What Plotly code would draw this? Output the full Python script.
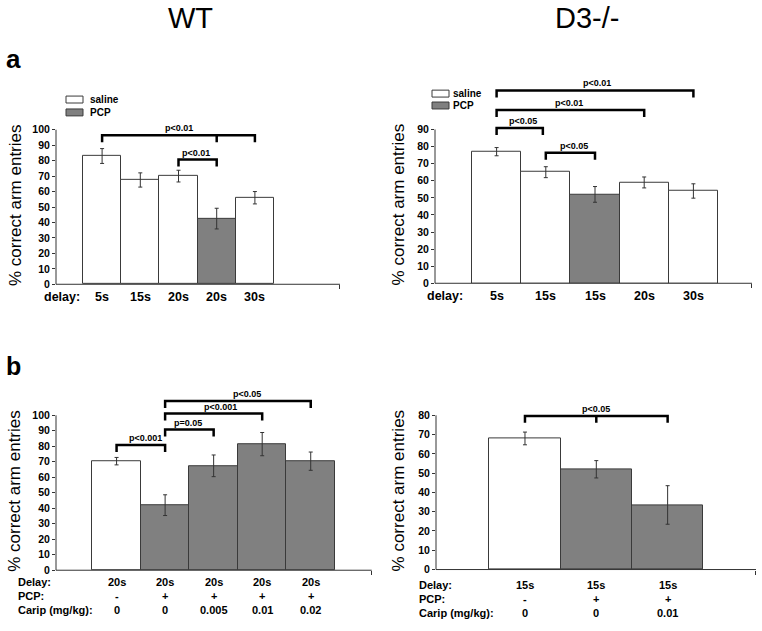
import plotly.graph_objects as go

W, H = 762, 631
FONT = "Arial, 'Liberation Sans', sans-serif"

# ---------------- data ----------------
wt_a_labels = ["5s", "15s", "20s", "20s", "30s"]
wt_a_values = [83, 67.5, 70, 42.5, 56]
wt_a_errors = [4.8, 4.6, 3.8, 6.7, 4.0]
wt_a_groups = ["saline", "saline", "saline", "PCP", "saline"]

d3_a_labels = ["5s", "15s", "15s", "20s", "30s"]
d3_a_values = [77, 65, 52, 59, 54]
d3_a_errors = [2.4, 3.2, 4.6, 3.2, 4.2]
d3_a_groups = ["saline", "saline", "PCP", "saline", "saline"]

wt_b_delay = ["20s", "20s", "20s", "20s", "20s"]
wt_b_pcp = ["-", "+", "+", "+", "+"]
wt_b_carip = ["0", "0", "0.005", "0.01", "0.02"]
wt_b_values = [70.4, 42, 67.4, 81.4, 70.4]
wt_b_errors = [2.4, 6.7, 7.0, 7.5, 5.9]

d3_b_delay = ["15s", "15s", "15s"]
d3_b_pcp = ["-", "+", "+"]
d3_b_carip = ["0", "0", "0.01"]
d3_b_values = [68, 52, 33.5]
d3_b_errors = [3.3, 4.5, 10]

# significance brackets: (from bar, to bar, height, middle ticks, label, label x)
wt_a_brackets = [(1, 5, 96.4, [4], "p<0.01", 3.02), (3, 4, 80.7, [], "p<0.01", 3.46)]
d3_a_brackets = [(1, 5, 112.8, [], "p<0.01", 3.05), (1, 4, 101.4, [], "p<0.01", 2.47),
                 (1, 1.94, 90.8, [], "p<0.05", 1.54), (2, 3, 76.3, [], "p<0.05", 2.58)]
wt_b_brackets = [(1, 2, 80.8, [], "p<0.001", 1.59), (2, 3, 90.8, [], "p=0.05", 2.47),
                 (2, 4, 101.1, [], "p<0.001", 3.15), (2, 5, 109.2, [], "p<0.05", 3.69)]
d3_b_brackets = [(1, 3, 79.7, [2], "p<0.05", 1.99)]

COL = {"saline": "#ffffff", "PCP": "#808080"}


def px_x(p):
    return p / W


def px_y(p):
    return 1 - p / H


panels = [
    dict(values=wt_a_values, errors=wt_a_errors,
         colors=[COL[g] for g in wt_a_groups],
         xpx=(56, 340), bars=(83, 274), y0=287, ytop=131, ymax=100, rtop=120,
         brackets=wt_a_brackets,
         rows=[("delay:", wt_a_labels, 300)], rowx=42, rowsize=12.5),
    dict(values=d3_a_values, errors=d3_a_errors,
         colors=[COL[g] for g in d3_a_groups],
         xpx=(435, 752), bars=(472, 718), y0=286, ytop=130.7, ymax=90, rtop=122,
         brackets=d3_a_brackets,
         rows=[("delay:", d3_a_labels, 299)], rowx=425, rowsize=12.5),
    dict(values=wt_b_values, errors=wt_b_errors,
         colors=[COL["saline"] if p == "-" else COL["PCP"] for p in wt_b_pcp],
         xpx=(56, 371.7), bars=(92.3, 335), y0=575.7, ytop=419.3, ymax=100, rtop=122,
         brackets=wt_b_brackets,
         rows=[("Delay:", wt_b_delay, 587.7), ("PCP:", wt_b_pcp, 601.7),
               ("Carip (mg/kg):", wt_b_carip, 615.7)], rowx=16, rowsize=11),
    dict(values=d3_b_values, errors=d3_b_errors,
         colors=[COL["saline"] if p == "-" else COL["PCP"] for p in d3_b_pcp],
         xpx=(436, 756), bars=(489.3, 703.3), y0=575, ytop=419.3, ymax=80, rtop=95,
         brackets=d3_b_brackets,
         rows=[("Delay:", d3_b_delay, 591), ("PCP:", d3_b_pcp, 605),
               ("Carip (mg/kg):", d3_b_carip, 618.7)], rowx=417, rowsize=11),
]

fig = go.Figure()
shapes = []
annotations = []
layout = {}

for i, p in enumerate(panels):
    k = "" if i == 0 else str(i + 1)
    xa, ya = "x" + k, "y" + k
    n = len(p["values"])
    unit = (p["bars"][1] - p["bars"][0]) / n
    r0 = 0.5 - (p["bars"][0] - p["xpx"][0]) / unit
    r1 = n + 0.5 + (p["xpx"][1] - p["bars"][1]) / unit
    ppu = (p["y0"] - p["ytop"]) / p["ymax"]
    top_px = p["y0"] - p["rtop"] * ppu
    dom_y = [px_y(p["y0"]), px_y(top_px)]
    dom_x = [px_x(p["xpx"][0]), px_x(p["xpx"][1])]

    xs = list(range(1, n + 1))
    fig.add_trace(go.Bar(
        x=xs, y=p["values"], width=1, xaxis=xa, yaxis=ya,
        marker=dict(color=p["colors"], line=dict(color="#3a3a3a", width=1)),
        error_y=dict(type="data", array=p["errors"], color="#333333", thickness=1, width=2),
        showlegend=False, hoverinfo="skip"))

    layout["xaxis" + k] = dict(domain=dom_x, range=[r0, r1], anchor=ya,
                               showgrid=False, zeroline=False, showline=False,
                               tickvals=[r1 - 0.005], ticks="outside", ticklen=4,
                               tickcolor="#333", showticklabels=False, fixedrange=True)
    layout["yaxis" + k] = dict(domain=dom_y, range=[0, p["rtop"]], anchor=xa,
                               showgrid=False, zeroline=False, showline=False,
                               tickvals=list(range(0, p["ymax"] + 1, 10)),
                               ticks="outside", ticklen=3, tickcolor="#333",
                               tickfont=dict(family=FONT, size=10.5, color="black", weight="bold"),
                               fixedrange=True)

    # axis lines
    shapes.append(dict(type="line", xref="paper", yref="paper",
                       x0=dom_x[0], x1=dom_x[0], y0=px_y(p["y0"]), y1=px_y(p["ytop"]),
                       line=dict(color="#333", width=1)))
    shapes.append(dict(type="line", xref="paper", yref="paper",
                       x0=dom_x[0], x1=dom_x[1], y0=px_y(p["y0"]), y1=px_y(p["y0"]),
                       line=dict(color="#333", width=1)))

    # brackets
    drop = 7 / ppu
    for (b0, b1, h, mids, lab, lx) in p["brackets"]:
        path = f"M {b0},{h - drop} L {b0},{h} L {b1},{h} L {b1},{h - drop}"
        for m in mids:
            path += f" M {m},{h} L {m},{h - drop}"
        shapes.append(dict(type="path", xref=xa, yref=ya, path=path,
                           line=dict(color="black", width=2.5)))
        annotations.append(dict(x=lx, y=h, xref=xa, yref=ya, text=lab, showarrow=False,
                                xanchor="center", yanchor="middle", yshift=7,
                                font=dict(family=FONT, size=9, color="black", weight="bold")))

    # x label rows
    for (rlab, vals, ypx) in p["rows"]:
        annotations.append(dict(x=px_x(p["rowx"]), y=px_y(ypx), xref="paper", yref="paper",
                                text=rlab, showarrow=False, xanchor="left", yanchor="middle",
                                font=dict(family=FONT, size=p["rowsize"], color="black", weight="bold")))
        for xi, v in zip(xs, vals):
            annotations.append(dict(x=xi, y=px_y(ypx), xref=xa, yref="paper", text=v,
                                    showarrow=False, xanchor="center", yanchor="middle",
                                    font=dict(family=FONT, size=p["rowsize"], color="black", weight="bold")))

    # y-axis title
    ytitle_x = 15 if p["xpx"][0] < 200 else 398
    annotations.append(dict(x=px_x(ytitle_x), y=px_y((p["y0"] + p["ytop"]) / 2 - 2),
                            xref="paper", yref="paper", text="% correct arm entries",
                            textangle=-90, showarrow=False, xanchor="center", yanchor="middle",
                            font=dict(family=FONT, size=17, color="black")))

# legends (panel a)
for (bx, by1, by2, tx) in [(66, 97, 110, 88), (432, 91, 103, 451)]:
    for (gy, name) in [(by1, "saline"), (by2, "PCP")]:
        shapes.append(dict(type="rect", xref="paper", yref="paper",
                           x0=px_x(bx), x1=px_x(bx + 17), y0=px_y(gy), y1=px_y(gy + 7),
                           fillcolor=COL[name], line=dict(color="#3a3a3a", width=1)))
        annotations.append(dict(x=px_x(tx), y=px_y(gy + 3.5), xref="paper", yref="paper",
                                text=name, showarrow=False, xanchor="left", yanchor="middle",
                                font=dict(family=FONT, size=10, color="black", weight="bold")))

# titles and panel letters
for (txt, cx, cy, size, bold) in [("WT", 190, 18, 29, False), ("D3-/-", 587, 18, 29, False),
                                  ("a", 13, 60, 26, True), ("b", 13, 370, 25, True)]:
    annotations.append(dict(x=px_x(cx), y=px_y(cy), xref="paper", yref="paper", text=txt,
                            showarrow=False, xanchor="center", yanchor="middle",
                            font=dict(family=FONT, size=size, color="black",
                                      weight="bold" if bold else "normal")))

fig.update_layout(width=W, height=H, margin=dict(l=0, r=0, t=0, b=0),
                  paper_bgcolor="white", plot_bgcolor="white",
                  shapes=shapes, annotations=annotations, bargap=0, **layout)

fig.write_html("out.html", config={"displayModeBar": False},
               post_script="document.body.style.margin='0px';document.body.style.overflow='hidden';")
